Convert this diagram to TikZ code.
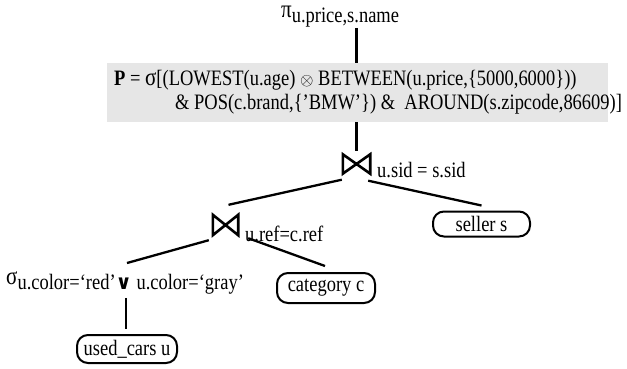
\documentclass[tikz,border=0pt]{standalone}
\usepackage{fontspec}
\setmainfont{Liberation Serif}[FakeStretch=0.84]
\newfontfamily\symfont{DejaVu Sans}
\usetikzlibrary{calc}
\definecolor{predgray}{HTML}{E6E6E6}
\tikzset{
  txt/.style={font=\fontsize{22}{26}\selectfont, inner sep=0pt},
  relbox/.style={draw, line width=2pt, rounded corners=11pt, inner sep=0pt,
                 font=\fontsize{22}{26}\selectfont},
  joinop/.style={inner sep=0pt},
  bowtie/.style={line width=2.6pt, line join=miter},
  edge/.style={line width=2.3pt},
  predbox/.style={fill=predgray, inner sep=0pt},
}
\newcommand{\bigsym}[1]{{\fontsize{25}{25}\selectfont #1}}
\newcommand{\lowsub}[1]{\raisebox{-5pt}{#1}}
\begin{document}
\begin{tikzpicture}[x=1pt,y=-1pt]
\useasboundingbox (0,0) rectangle (627,369);

% projection
\node[txt, anchor=base west] (proj) at (281,18) {\bigsym{π}\lowsub{u.price,s.name}};

% preference selection box
\node[predbox, minimum width=501pt, minimum height=59pt] (sel) at (357.5,92.5) {};
\node[txt, anchor=base west] (selA) at (114,85)
  {\textbf{P} = \bigsym{σ}[(LOWEST(u.age) {\fontsize{19}{19}\selectfont$\otimes$} BETWEEN(u.price,\{5000,6000\}))};
\node[txt, anchor=base west] (selB) at (175,110)
  {\& POS(c.brand,\{’BMW’\}) \& \ AROUND(s.zipcode,86609)]};

% joins
\node[joinop, minimum width=27pt, minimum height=19pt] (j1) at (356.5,164) {};
\draw[bowtie] (j1.north west) -- (j1.south west) -- (j1.north east) -- (j1.south east) -- cycle;
\node[txt, anchor=base west] (j1lbl) at (377,177) {u.sid = s.sid};

\node[joinop, minimum width=25pt, minimum height=20pt] (j2) at (225.5,225) {};
\draw[bowtie] (j2.north west) -- (j2.south west) -- (j2.north east) -- (j2.south east) -- cycle;
\node[txt, anchor=base west] (j2lbl) at (245,241) {u.ref=c.ref};

% filter
\node[txt, anchor=base west] (filt) at (6,284)
  {\bigsym{σ}\lowsub{u.color=‘red’{\symfont\bfseries\fontsize{20}{20}\selectfont ∨} u.color=‘gray’}};

% base relations
\node[relbox, minimum width=97pt, minimum height=25pt] (seller) at (481.5,224) {seller s};
\node[relbox, minimum width=98pt, minimum height=30pt] (cat) at (326,288) {category c};
\node[relbox, minimum width=100pt, minimum height=28pt] (uc) at (127,349) {used\_cars u};

% connectors
\draw[edge] (proj.south -| j1) -- (sel.north -| j1);
\draw[edge] (sel.south -| j1) -- ($(j1.north)+(0,-3)$);
\draw[edge] ($(j1.south west)+(-1,6)$) -- ($(j2.north)+(3,-10)$);
\draw[edge] ($(j1.south east)+(-2,7)$) -- ($(seller.north)+(0,-5)$);
\draw[edge] ($(j2.south west)+(-4,5)$) -- ($(filt.north west)+(121,-8)$);
\draw[edge] ($(j2.south east)+(10,3)$) -- ($(cat.north)+(-1,-6)$);
\draw[edge] ($(filt.south west)+(120,4)$) -- ($(uc.north)+(-1,-5)$);
\end{tikzpicture}
\end{document}
